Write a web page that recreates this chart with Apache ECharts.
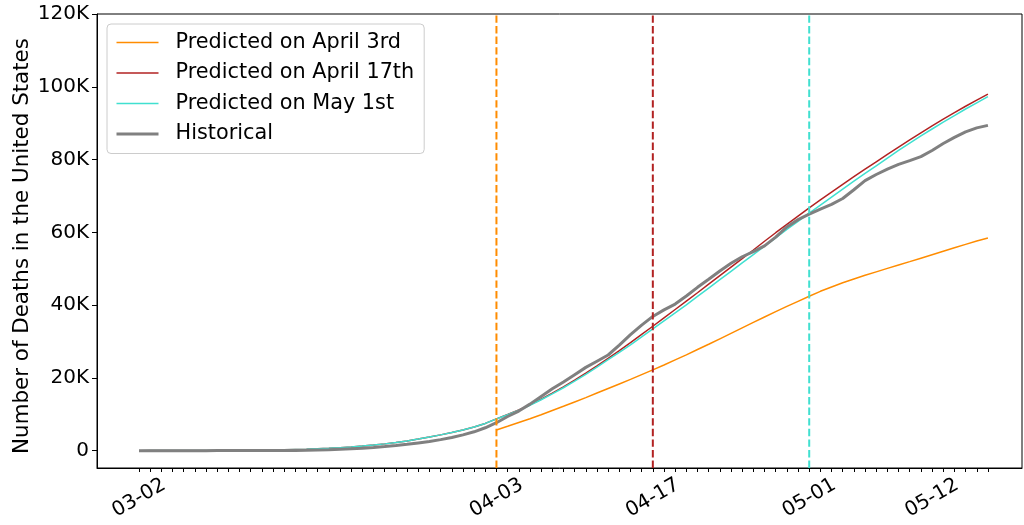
<!DOCTYPE html>
<html>
<head>
<meta charset="utf-8">
<script src="https://cdn.jsdelivr.net/npm/echarts@6/dist/echarts.min.js"></script>
<style>
  html, body { margin: 0; padding: 0; background: #fff; }
  #chart { width: 1024px; height: 525px; }
</style>
</head>
<body>
<div id="chart"></div>
<script>
// Day index 0 = 03-02, one step per day up to 05-17 (index 76)
const tickDays = [0, 32, 46, 60, 71];
const tickLabels = ['03-02', '04-03', '04-17', '05-01', '05-12'];
const yTicks = [0, 20000, 40000, 60000, 80000, 100000, 120000];
const yMin = -4750;
const yMax = 120000;

// Cumulative US deaths, daily from 03-02
const historical = [
  6, 9, 11, 12, 15, 19, 22, 26, 30, 38, 41, 48, 57, 68,
  90, 130, 190, 280, 380, 520, 700, 900, 1150, 1420,
  1750, 2150, 2550, 3050, 3650, 4350, 5200, 6300, 7700, 9400,
  10900, 12800, 14900, 17000, 18900, 20900, 22900, 24600, 26300, 29000,
  31900, 34500, 36900, 38700, 40300, 42500, 44900, 47100, 49400, 51500,
  53300, 54700, 56300, 58700, 61500, 63500, 65000, 66400, 67700, 69300,
  71700, 74200, 75900, 77400, 78700, 79700, 80800, 82500, 84400, 86100,
  87600, 88700, 89400
];

// Model curve fitted on April 17th, daily from 03-02
const predApr17 = [
  20, 25, 30, 35, 45, 55, 65, 80, 95, 115,
  140, 170, 205, 250, 330, 420, 530, 660, 830, 1030,
  1270, 1550, 1880, 2260, 2700, 3200, 3750, 4350, 5000, 5700,
  6500, 7500, 8750, 9950, 11200, 12600, 14150, 15800, 17550, 19400,
  21300, 23300, 25400, 27500, 29700, 31950, 34200, 36500, 38800, 41100,
  43400, 45750, 48100, 50450, 52800, 55150, 57550, 59900, 62200, 64450,
  66700, 68900, 71050, 73200, 75300, 77350, 79400, 81450, 83450, 85400,
  87350, 89250, 91100, 92900, 94650, 96350, 98000
];

// Model curve fitted on May 1st, daily from 03-02
const predMay1 = [
  20, 25, 30, 35, 45, 55, 65, 80, 95, 115,
  140, 170, 205, 250, 330, 420, 530, 660, 830, 1030,
  1270, 1550, 1880, 2260, 2700, 3200, 3750, 4350, 5000, 5700,
  6500, 7500, 8700, 9900, 11100, 12500, 14000, 15600, 17300, 19100,
  21000, 23000, 25000, 27000, 29100, 31300, 33500, 35700, 37900, 40100,
  42400, 44700, 47000, 49300, 51600, 53900, 56200, 58500, 60800, 63000,
  65300, 67500, 69700, 71900, 74100, 76200, 78300, 80400, 82500, 84500,
  86500, 88400, 90300, 92100, 93900, 95600, 97300
];

// Model curve fitted on April 3rd, daily from 04-03 (index 32)
const predApr3Start = 32;
const predApr3 = [
  5700, 6700, 7750, 8800, 9900, 11050, 12200, 13400, 14600, 15850,
  17100, 18350, 19600, 20900, 22200,
  23550, 24950, 26350, 27800, 29250,
  30750, 32250, 33750, 35250, 36750,
  38200, 39650, 41050, 42450, 43800,
  45000, 46150, 47200, 48200, 49150,
  50100, 51050, 51950, 52900, 53850,
  54800, 55750, 56700, 57600, 58450
];

// Dates the predictions were made on
const predictionDays = [32, 46, 60];

const names = ['Predicted on April 3rd', 'Predicted on April 17th', 'Predicted on May 1st', 'Historical'];
const colors = ['#ff8c00', '#b22222', '#40e0d0', '#808080'];
const widths = [1.5, 1.5, 1.5, 3];
const FONT = 'DejaVu Sans';

const toPoints = (arr, start = 0) => arr.map((v, i) => [start + i, v]);
const allDays = historical.map((_, i) => i);

const lineSeries = (i, data) => ({
  name: names[i], type: 'line', data, symbol: 'none', smooth: false,
  lineStyle: { color: colors[i], width: widths[i] }, itemStyle: { color: colors[i] },
  emphasis: { disabled: true },
  animation: false, z: 2
});

// Vertical dashed line at the date each prediction was made, spanning the y range
const dateMarker = i => ({
  name: 'marker ' + i, type: 'line', symbol: 'none', silent: true, z: 3,
  data: [[predictionDays[i], yMin], [predictionDays[i], yMax]],
  lineStyle: { color: colors[i], width: 2, type: [7.4, 3.2] },
  emphasis: { disabled: true },
  animation: false
});

const chart = echarts.init(document.getElementById('chart'), null, { renderer: 'canvas' });

chart.setOption({
  animation: false,
  backgroundColor: '#fff',
  textStyle: { fontFamily: FONT },
  grid: {
    left: 97, right: 2, top: 14, bottom: 57,
    show: true, borderColor: '#000', borderWidth: 1,
    containLabel: false, outerBoundsMode: 'none'
  },
  legend: {
    data: names.map((n, i) => ({ name: n, lineStyle: { width: widths[i], color: colors[i] } })),
    orient: 'vertical',
    left: 107, top: 24,
    itemWidth: 42, itemHeight: 20, itemGap: 9.5,
    padding: [8, 10, 9, 8],
    borderColor: '#cccccc', borderWidth: 1, borderRadius: 4,
    backgroundColor: 'rgba(255,255,255,0.8)',
    itemStyle: { color: 'transparent', borderColor: 'transparent', borderWidth: 0, opacity: 0 },
    textStyle: { fontSize: 20.8, color: '#000', fontFamily: FONT, padding: [0, 0, 0, 12], lineHeight: 20 },
    selectedMode: false
  },
  xAxis: {
    type: 'value',
    min: -3.76, max: 79.05,
    axisLine: { show: true, onZero: false, lineStyle: { color: '#000', width: 1 } },
    axisTick: { show: true, customValues: allDays, length: 4, lineStyle: { color: '#000', width: 1 } },
    axisLabel: {
      customValues: tickDays,
      formatter: v => tickLabels[tickDays.indexOf(Math.round(v))] || '',
      rotate: 30, align: 'center', verticalAlign: 'middle',
      margin: 30, fontSize: 20, color: '#000', fontFamily: FONT
    },
    splitLine: { show: false }
  },
  yAxis: {
    type: 'value',
    min: yMin, max: yMax,
    axisLine: { show: true, onZero: false, lineStyle: { color: '#000', width: 1 } },
    axisTick: { show: true, customValues: yTicks, length: 5, lineStyle: { color: '#000', width: 1 } },
    axisLabel: {
      customValues: yTicks,
      formatter: v => (v === 0 ? '0' : (v / 1000) + 'K'),
      margin: 8, fontSize: 20, color: '#000', fontFamily: FONT
    },
    splitLine: { show: false },
    name: 'Number of Deaths in the United States',
    nameLocation: 'middle', nameGap: 64, nameMoveOverlap: false,
    nameTextStyle: { fontSize: 21.4, color: '#000', fontFamily: FONT, padding: [0, 10, 0, 0] }
  },
  series: [
    lineSeries(0, toPoints(predApr3, predApr3Start)),
    lineSeries(1, toPoints(predApr17)),
    lineSeries(2, toPoints(predMay1)),
    lineSeries(3, toPoints(historical)),
    dateMarker(0),
    dateMarker(1),
    dateMarker(2)
  ]
});
</script>
</body>
</html>
